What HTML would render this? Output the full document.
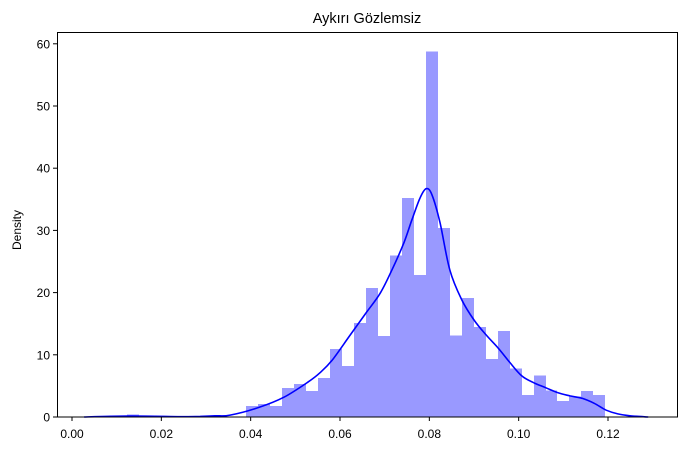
<!DOCTYPE html>
<html><head><meta charset="utf-8"><style>
body{margin:0;background:#fff}
svg text{font-family:"Liberation Sans",sans-serif;fill:#000}
</style></head><body>
<svg id="chart" width="686" height="451" viewBox="0 0 686 451" xmlns="http://www.w3.org/2000/svg">
<text x="367" y="23" font-size="14.5" text-anchor="middle">Aykırı Gözlemsiz</text>
<text x="0" y="0" font-size="12" text-anchor="middle" transform="translate(21,230) rotate(-90)">Density</text>
<g id="bars" shape-rendering="crispEdges"></g>
<path id="kde" fill="none" stroke="#0000ff" stroke-width="1.6"/>
<rect x="57.5" y="32.5" width="620" height="384.5" fill="none" stroke="#000" stroke-width="1"/>
<g id="axes"></g>
</svg>
<script>
const binStart = 0.01221;
const binWidth = 0.00268;
const binHeights = [0.4,0,0,0,0,0,0,0,0,0,1.8,2.1,1.8,4.7,5.3,4.2,6.3,10.9,8.2,15.1,20.7,13.0,26.0,35.2,22.8,58.8,30.4,13.1,19.1,14.5,9.3,13.8,7.8,3.5,6.7,4.3,2.6,3.3,4.2,3.5];
const kdeX = [0.0027,0.013,0.0242,0.0287,0.032,0.0354,0.0421,0.0475,0.0528,0.0555,0.0582,0.0623,0.0658,0.069,0.0716,0.0743,0.0761,0.0779,0.0793,0.0806,0.0824,0.0846,0.0873,0.09,0.0927,0.0954,0.0981,0.1007,0.1034,0.1061,0.1088,0.1115,0.1142,0.1169,0.1196,0.1222,0.1249,0.129];
const kdeY = [0,0.15,0.05,0.1,0.2,0.3,1.6,3.2,5.6,7.1,9.1,13.2,16.7,19.9,23.6,28,31.7,35.2,36.7,35.7,31.2,23.6,18.8,15.6,13.2,11.1,8.7,6.6,5.5,4.7,3.9,3.4,3.0,2.2,1.1,0.5,0.2,0];
const xTicks = [0,0.02,0.04,0.06,0.08,0.10,0.12];
const xTickLabels = ["0.00","0.02","0.04","0.06","0.08","0.10","0.12"];
const yTicks = [0,10,20,30,40,50,60];

const NS = "http://www.w3.org/2000/svg";
const xs = v => 72 + v * 4466.67;
const ys = v => 417 - v * 6.22;

const bars = document.getElementById('bars');
binHeights.forEach((h, i) => {
  if (h <= 0) return;
  const r = document.createElementNS(NS, 'rect');
  
  
  const x0 = Math.round(xs(binStart + i * binWidth)), x1 = Math.round(xs(binStart + (i + 1) * binWidth));
  r.setAttribute('x', x0); r.setAttribute('width', x1 - x0);
  r.setAttribute('y', ys(h)); r.setAttribute('height', ys(0) - ys(h));
  r.setAttribute('fill', '#9999ff');
  bars.appendChild(r);
});

const pts = kdeX.map((x, i) => [xs(x), ys(kdeY[i])]);
let d = 'M' + pts[0][0].toFixed(1) + ',' + pts[0][1].toFixed(1);
for (let i = 0; i < pts.length - 1; i++) {
  const p0 = pts[Math.max(0, i - 1)], p1 = pts[i], p2 = pts[i + 1], p3 = pts[Math.min(pts.length - 1, i + 2)];
  const c1 = [p1[0] + (p2[0] - p0[0]) / 6, p1[1] + (p2[1] - p0[1]) / 6];
  const c2 = [p2[0] - (p3[0] - p1[0]) / 6, p2[1] - (p3[1] - p1[1]) / 6];
  d += ' C' + c1.map(v => v.toFixed(1)).join(',') + ' ' + c2.map(v => v.toFixed(1)).join(',') + ' ' + p2.map(v => v.toFixed(1)).join(',');
}
document.getElementById('kde').setAttribute('d', d);

const axes = document.getElementById('axes');
xTicks.forEach((t, i) => {
  const l = document.createElementNS(NS, 'line');
  
  
  l.setAttribute('x1', xs(t)); l.setAttribute('x2', xs(t));
  l.setAttribute('y1', 417); l.setAttribute('y2', 421);
  l.setAttribute('stroke', '#000');
  axes.appendChild(l);
  const tx = document.createElementNS(NS, 'text');
  
  
  tx.setAttribute('x', xs(t)); tx.setAttribute('y', 438);
  tx.setAttribute('font-size', '12'); tx.setAttribute('text-anchor', 'middle');
  tx.textContent = xTickLabels[i];
  axes.appendChild(tx);
});
yTicks.forEach(t => {
  const l = document.createElementNS(NS, 'line');
  
  
  l.setAttribute('x1', 53); l.setAttribute('x2', 57.5);
  l.setAttribute('y1', ys(t)); l.setAttribute('y2', ys(t));
  l.setAttribute('stroke', '#000');
  axes.appendChild(l);
  const tx = document.createElementNS(NS, 'text');
  
  
  tx.setAttribute('x', 50); tx.setAttribute('y', ys(t) + 4.5);
  tx.setAttribute('font-size', '12'); tx.setAttribute('text-anchor', 'end');
  tx.textContent = t;
  axes.appendChild(tx);
});
</script>
</body></html>
